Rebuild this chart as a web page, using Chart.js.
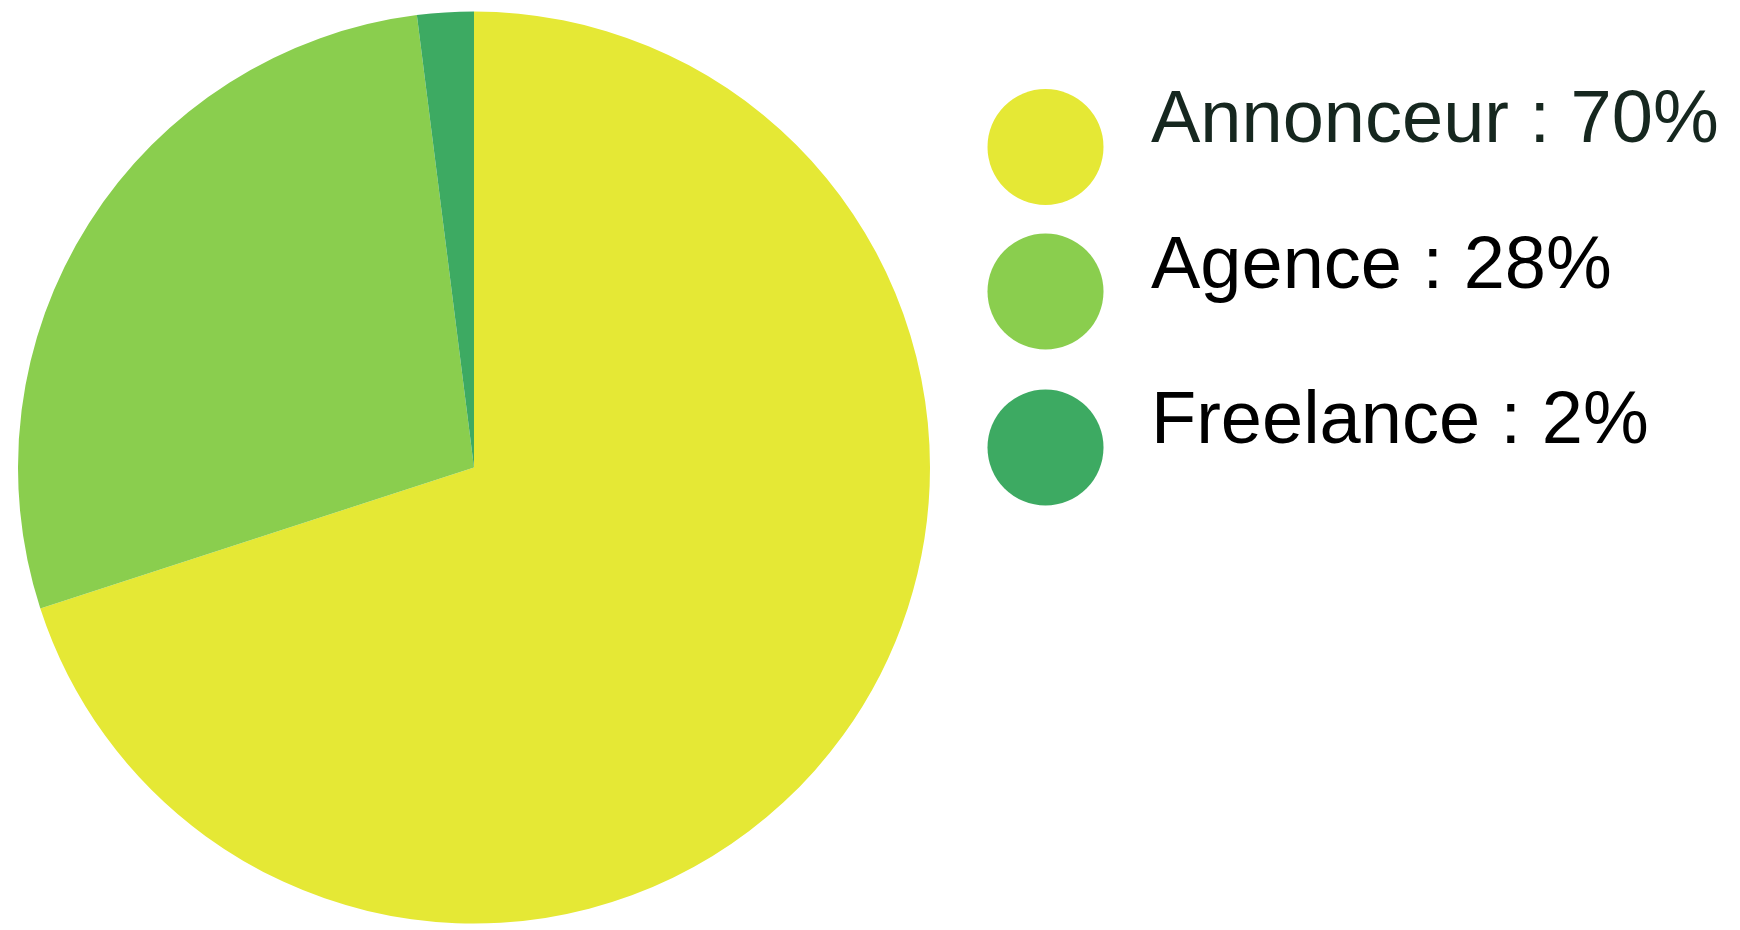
<!DOCTYPE html>
<html>
<head>
<meta charset="utf-8">
<script src="https://cdn.jsdelivr.net/npm/chart.js@4/dist/chart.umd.min.js"></script>
<style>
  html, body { margin: 0; padding: 0; background: #ffffff; }
  #wrap { width: 1740px; height: 930px; position: relative; }
</style>
</head>
<body>
<div id="wrap"><canvas id="c"></canvas></div>
<script>
const categories = ["Annonceur", "Agence", "Freelance"];
const shares = [70, 28, 2];
const sliceColors = ["#E5E835", "#8ACE4E", "#3DAA62"];
const labelColors = ["#16271F", "#000000", "#000000"];

const sideLegend = {
  id: "sideLegend",
  afterDraw(chart, args, opts) {
    const ctx = chart.ctx;
    const labels = chart.data.labels;
    const ds = chart.data.datasets[0];
    ctx.save();
    ctx.font = opts.fontSize + "px 'Liberation Sans', Arial, sans-serif";
    ctx.textBaseline = "alphabetic";
    ctx.textAlign = "left";
    labels.forEach((lab, i) => {
      const baseY = opts.baselines[i];
      ctx.beginPath();
      ctx.fillStyle = ds.backgroundColor[i];
      ctx.arc(opts.dotX, opts.dotCenters[i], opts.dotRadius, 0, Math.PI * 2);
      ctx.fill();
      ctx.fillStyle = opts.colors[i];
      ctx.fillText(lab + " : " + ds.data[i] + "%", opts.textX, baseY);
    });
    ctx.restore();
  }
};

new Chart(document.getElementById("c"), {
  type: "pie",
  data: {
    labels: categories,
    datasets: [{
      data: shares,
      backgroundColor: sliceColors,
      borderWidth: 0,
      hoverOffset: 0,
      offset: 0
    }]
  },
  options: {
    responsive: true,
    maintainAspectRatio: false,
    animation: false,
    layout: { padding: { left: 18, top: 11, right: 810, bottom: 6 } },
    plugins: {
      legend: { display: false },
      tooltip: { enabled: false },
      sideLegend: {
        fontSize: 74,
        baselines: [142, 288, 443],
        dotCenters: [147, 291.5, 447.5],
        dotX: 1045.5,
        dotRadius: 58,
        textX: 1151,
        colors: labelColors
      }
    }
  },
  plugins: [sideLegend]
});
</script>
</body>
</html>
